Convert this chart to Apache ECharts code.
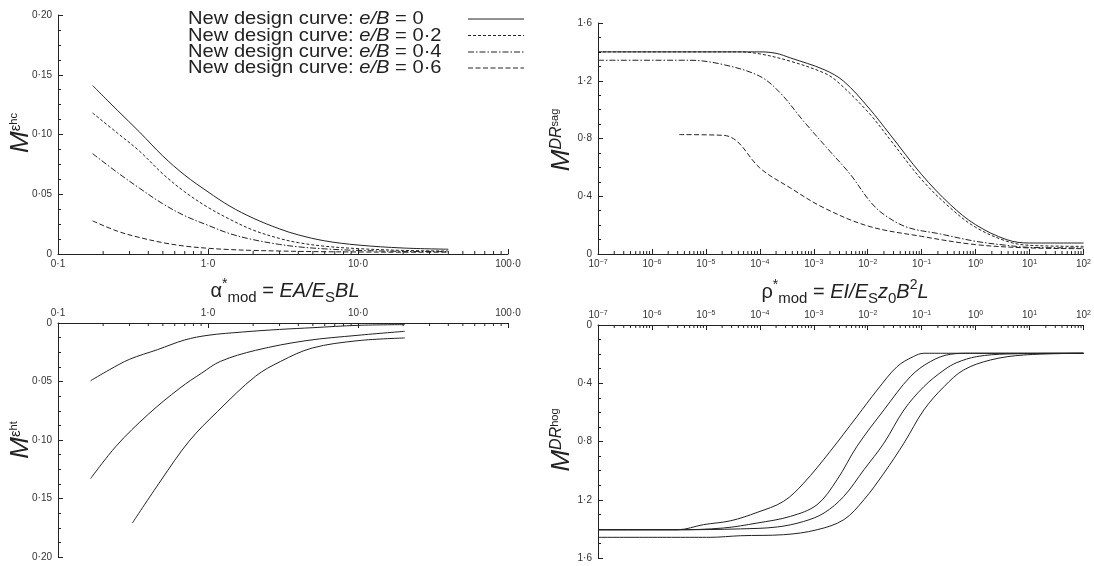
<!DOCTYPE html>
<html>
<head>
<meta charset="utf-8">
<script src="https://cdn.jsdelivr.net/npm/echarts@6/dist/echarts.min.js"></script>
<style>
  html, body { margin: 0; padding: 0; background: #fff; }
  #main { width: 1094px; height: 566px; }
</style>
</head>
<body>
<div id="main"></div>
<script>
'use strict';

// legend / series names
var curveNames = ['e/B = 0', 'e/B = 0·2', 'e/B = 0·4', 'e/B = 0·6'];
var curveLabels = ['0', '0·2', '0·4', '0·6'];

// top left: M^eps_hc against alpha*
var hcX = [0.17, 0.25, 0.35, 0.5, 0.7, 1.0, 1.4, 2.0, 3.0, 4.0, 6.0, 10, 20, 40];
var hcE0 = [0.141, 0.120, 0.102, 0.082, 0.066, 0.052, 0.040, 0.030, 0.021, 0.016, 0.011, 0.0075, 0.005, 0.004];
var hcE2 = [0.118, 0.101, 0.086, 0.067, 0.052, 0.039, 0.029, 0.020, 0.013, 0.0095, 0.0065, 0.0045, 0.003, 0.0025];
var hcE4 = [0.084, 0.068, 0.055, 0.042, 0.032, 0.024, 0.017, 0.012, 0.008, 0.006, 0.0043, 0.003, 0.0022, 0.002];
var hcE6 = [0.0277, 0.019, 0.0138, 0.0095, 0.0066, 0.0048, 0.0037, 0.003, 0.0025, 0.0022, 0.0019, 0.0017, 0.0015, 0.0015];

// bottom left: M^eps_ht against alpha* (3 curves)
var htX0 = [0.165, 0.22, 0.3, 0.46, 0.7, 1.0, 1.7, 3.0, 5.0, 10, 20.5];
var htE0 = [0.0493, 0.040, 0.031, 0.0228, 0.0145, 0.0105, 0.0077, 0.0055, 0.004, 0.002, 0.0014];
var htX2 = [0.165, 0.245, 0.4, 0.65, 0.91, 1.21, 2.07, 4.5, 10, 20.5];
var htE2 = [0.133, 0.105, 0.078, 0.0556, 0.0427, 0.0328, 0.0234, 0.0151, 0.0105, 0.0071];
var htX4 = [0.313, 0.483, 0.748, 1.16, 2.07, 3.05, 4.95, 10, 20.5];
var htE4 = [0.171, 0.135, 0.101, 0.0755, 0.0456, 0.0328, 0.0214, 0.0151, 0.0128];

// top right: M^DR_sag against rho*
var sagX0 = [1e-7, 1e-4, 2e-4, 3.7e-4, 1.55e-3, 3.6e-3, 1.05e-2, 2.6e-2, 0.1, 0.34, 1, 3.8, 10, 100];
var sagE0 = [1.40, 1.40, 1.39, 1.358, 1.277, 1.196, 1.011, 0.827, 0.55, 0.342, 0.203, 0.099, 0.076, 0.076];
var sagX2 = [1e-7, 4e-5, 1e-4, 3.7e-4, 1.55e-3, 2.7e-3, 1.05e-2, 2.6e-2, 0.1, 0.34, 1, 3.8, 10, 100];
var sagE2 = [1.40, 1.40, 1.386, 1.335, 1.254, 1.196, 0.977, 0.792, 0.515, 0.319, 0.185, 0.088, 0.06, 0.053];
var sagX4 = [1e-7, 5e-6, 2.1e-5, 1e-4, 2.4e-4, 6.5e-4, 2e-3, 4.8e-3, 1.1e-2, 2e-2, 5.4e-2, 0.22, 1, 3.8, 10, 100];
var sagE4 = [1.342, 1.342, 1.312, 1.231, 1.115, 0.919, 0.711, 0.55, 0.365, 0.273, 0.185, 0.139, 0.088, 0.06, 0.046, 0.042];
var sagX6 = [3.2e-6, 2.1e-5, 3.8e-5, 1e-4, 3.7e-4, 1.55e-3, 1.05e-2, 0.1, 1, 10, 100];
var sagE6 = [0.827, 0.822, 0.78, 0.596, 0.457, 0.319, 0.192, 0.122, 0.065, 0.042, 0.037];

// bottom right: M^DR_hog against rho*
var hogX0 = [1e-7, 3e-6, 9e-6, 2.9e-5, 8.9e-5, 2.75e-4, 6.5e-4, 2e-3, 6.3e-3, 1.5e-2, 3.5e-2, 7e-2, 0.11, 100];
var hogE0 = [1.406, 1.406, 1.371, 1.344, 1.287, 1.211, 1.086, 0.869, 0.629, 0.446, 0.286, 0.217, 0.194, 0.194];
var hogX2 = [1e-7, 3e-6, 2.1e-5, 8.9e-5, 3.7e-4, 1.15e-3, 2.7e-3, 6.3e-3, 2e-2, 6.2e-2, 0.145, 0.34, 0.8, 100];
var hogE2 = [1.406, 1.406, 1.394, 1.36, 1.314, 1.234, 1.063, 0.834, 0.583, 0.354, 0.251, 0.201, 0.194, 0.194];
var hogX4 = [1e-7, 3e-6, 4.4e-5, 2.1e-4, 6.5e-4, 1.55e-3, 3.6e-3, 8.5e-3, 2e-2, 4.7e-2, 0.11, 0.26, 0.45, 1.05, 3.8, 100];
var hogE4 = [1.406, 1.406, 1.40, 1.387, 1.349, 1.291, 1.177, 0.994, 0.811, 0.583, 0.423, 0.309, 0.258, 0.217, 0.199, 0.194];
var hogX6 = [1e-7, 1.2e-5, 4.4e-5, 2.75e-4, 1.15e-3, 3.6e-3, 8.5e-3, 2e-2, 4.7e-2, 0.11, 0.26, 0.6, 1.9, 7.8, 100];
var hogE6 = [1.458, 1.458, 1.447, 1.44, 1.406, 1.337, 1.2, 1.017, 0.811, 0.583, 0.423, 0.309, 0.24, 0.206, 0.194];

var FONT = '"Liberation Sans", Arial, Helvetica, sans-serif';
var INK = '#222';
var dashes = ['solid', [3, 2], [6, 2, 1.5, 2], [5, 2.5]];

function pts(xs, ys) {
    return xs.map(function (x, i) { return [x, ys[i]]; });
}

function curve(name, idx, data, dash) {
    return {
        name: name, type: 'line', xAxisIndex: idx, yAxisIndex: idx,
        data: data, showSymbol: false, symbol: 'none', smooth: 0.35,
        lineStyle: { color: INK, width: 1, type: dash },
        itemStyle: { color: INK },
        silent: true, z: 3
    };
}

// minor log ticks (2..9 in each decade) drawn through the axis scale
function minorTicks(idx, lo, hi, dir) {
    var vals = [];
    for (var e = lo; e < hi; e++) {
        for (var k = 2; k <= 9; k++) vals.push([k * Math.pow(10, e), 0]);
    }
    return {
        type: 'custom', xAxisIndex: idx, yAxisIndex: idx, silent: true, clip: false, z: 4,
        data: vals,
        renderItem: function (params, api) {
            var p = api.coord([api.value(0), 0]);
            return {
                type: 'line',
                shape: { x1: p[0], y1: p[1], x2: p[0], y2: p[1] + dir * 3 },
                style: { stroke: INK, lineWidth: 1 }
            };
        }
    };
}

var decLabel = function (v) {
    var e = Math.round(Math.log(v) / Math.LN10);
    return { '-1': '0·1', '0': '1·0', '1': '10·0', '2': '100·0' }[e];
};
var powLabel = function (v) {
    var e = Math.round(Math.log(v) / Math.LN10);
    return '10{s|' + String(e).replace('-', '−') + '}';
};
var leftY = function (v) { return v === 0 ? '0' : v.toFixed(2).replace('.', '·'); };
var rightY = function (v) { return v === 0 ? '0' : v.toFixed(1).replace('.', '·'); };

var lbl = { color: '#333', fontSize: 10, fontFamily: FONT };
var powRich = { s: { fontSize: 7, fontFamily: FONT, color: '#333', verticalAlign: 'top', lineHeight: 8 } };

function xAx(idx, min, max, pos, fmt) {
    return {
        type: 'log', logBase: 10, gridIndex: idx, min: min, max: max, position: pos,
        splitNumber: Math.round(Math.log(max / min) / Math.LN10),
        axisLine: { show: true, onZero: false, lineStyle: { color: INK, width: 1 } },
        axisTick: { show: true, inside: true, length: 5, lineStyle: { color: INK } },
        axisLabel: Object.assign({ formatter: fmt, margin: 5, showMinLabel: true, showMaxLabel: true, rich: powRich }, lbl),
        splitLine: { show: false }
    };
}

function yAx(idx, max, step, inv, fmt) {
    return {
        type: 'value', gridIndex: idx, min: 0, max: max, interval: step, inverse: inv,
        axisLine: { show: true, lineStyle: { color: INK, width: 1 } },
        axisTick: { show: true, inside: true, length: 5, lineStyle: { color: INK } },
        minorTick: { show: true, splitNumber: 4, length: 3, lineStyle: { color: INK } },
        axisLabel: Object.assign({ formatter: fmt, margin: 6 }, lbl),
        splitLine: { show: false }, minorSplitLine: { show: false }
    };
}

var series = [
    curve(curveNames[0], 0, pts(hcX, hcE0), dashes[0]),
    curve(curveNames[1], 0, pts(hcX, hcE2), dashes[1]),
    curve(curveNames[2], 0, pts(hcX, hcE4), dashes[2]),
    curve(curveNames[3], 0, pts(hcX, hcE6), dashes[3]),
    curve(curveNames[0], 1, pts(htX0, htE0), 'solid'),
    curve(curveNames[1], 1, pts(htX2, htE2), 'solid'),
    curve(curveNames[2], 1, pts(htX4, htE4), 'solid'),
    curve(curveNames[0], 2, pts(sagX0, sagE0), dashes[0]),
    curve(curveNames[1], 2, pts(sagX2, sagE2), dashes[1]),
    curve(curveNames[2], 2, pts(sagX4, sagE4), dashes[2]),
    curve(curveNames[3], 2, pts(sagX6, sagE6), dashes[3]),
    curve(curveNames[0], 3, pts(hogX0, hogE0), 'solid'),
    curve(curveNames[1], 3, pts(hogX2, hogE2), 'solid'),
    curve(curveNames[2], 3, pts(hogX4, hogE4), 'solid'),
    curve(curveNames[3], 3, pts(hogX6, hogE6), 'solid'),
    minorTicks(0, -1, 2, -1),
    minorTicks(1, -1, 2, 1),
    minorTicks(2, -7, 2, -1),
    minorTicks(3, -7, 2, 1)
];

// rotated axis names with super/subscripts
function yName(x, y, text) {
    return {
        type: 'text', x: x, y: y, rotation: Math.PI / 2, silent: true,
        style: { text: text, rich: mRich, fill: INK, align: 'center', verticalAlign: 'middle', fontFamily: FONT }
    };
}
var mRich = {
    m: { fontSize: 26, fontStyle: 'italic', fontFamily: FONT, lineHeight: 30, verticalAlign: 'top', fill: INK },
    e: { fontSize: 15, fontFamily: FONT, lineHeight: 15, verticalAlign: 'top', fill: INK },
    s: { fontSize: 11, fontFamily: FONT, lineHeight: 36, verticalAlign: 'top', fill: INK },
    d: { fontSize: 16, fontStyle: 'italic', fontFamily: FONT, lineHeight: 17, verticalAlign: 'top', fill: INK },
    t: { fontSize: 11, fontFamily: FONT, lineHeight: 40, verticalAlign: 'top', fill: INK }
};
var tRich = {
    n: { fontSize: 20, fontFamily: FONT, lineHeight: 28, fill: INK },
    i: { fontSize: 20, fontStyle: 'italic', fontFamily: FONT, lineHeight: 28, fill: INK },
    p: { fontSize: 14, fontFamily: FONT, lineHeight: 12, verticalAlign: 'top', fill: INK },
    b: { fontSize: 15, fontFamily: FONT, lineHeight: 14, verticalAlign: 'bottom', fill: INK }
};

// legend drawn by hand so the text and the line samples line up as in the figure
var legendRows = [19, 35.5, 52, 68];
var legendItems = [];
curveLabels.forEach(function (lab, i) {
    legendItems.push({
        type: 'text', x: 188, y: legendRows[i], scaleX: 1.06, silent: true,
        style: {
            text: 'New design curve: {i|e/B} = ' + lab, fill: INK, fontSize: 19, fontFamily: FONT,
            verticalAlign: 'middle', align: 'left',
            rich: { i: { fontSize: 19, fontStyle: 'italic', fontFamily: FONT, fill: INK } }
        }
    });
    legendItems.push({
        type: 'line', silent: true,
        shape: { x1: 468, y1: legendRows[i], x2: 524, y2: legendRows[i] },
        style: { stroke: INK, lineWidth: 1, lineDash: dashes[i] === 'solid' ? null : dashes[i] }
    });
});

var option = {
    backgroundColor: '#fff',
    animation: false,
    textStyle: { fontFamily: FONT },
    grid: [
        { left: 58, top: 15, width: 450, height: 239 },
        { left: 58, top: 323, width: 450, height: 234 },
        { left: 598, top: 23, width: 489, height: 231 },
        { left: 598, top: 325, width: 489, height: 233 }
    ],
    xAxis: [
        xAx(0, 0.1, 100, 'bottom', decLabel),
        xAx(1, 0.1, 100, 'top', decLabel),
        xAx(2, 1e-7, 100, 'bottom', powLabel),
        xAx(3, 1e-7, 100, 'top', powLabel)
    ],
    yAxis: [
        yAx(0, 0.2, 0.05, false, leftY),
        yAx(1, 0.2, 0.05, true, leftY),
        yAx(2, 1.6, 0.4, false, rightY),
        yAx(3, 1.6, 0.4, true, rightY)
    ],
    graphic: [
        yName(26, 133, '{m|M}{e|ε}{s|hc}'),
        yName(26, 440, '{m|M}{e|ε}{s|ht}'),
        yName(569, 140, '{m|M}{d|DR}{t|sag}'),
        yName(569, 440, '{m|M}{d|DR}{t|hog}'),
        {
            type: 'text', x: 285, y: 291, silent: true,
            style: { text: '{n|α}{p|*}{b|mod}{n| = }{i|EA/E}{b|S}{i|BL}', rich: tRich, align: 'center', verticalAlign: 'middle' }
        },
        {
            type: 'text', x: 845, y: 292, silent: true,
            style: { text: '{n|ρ}{p|*}{b|mod}{n| = }{i|EI/E}{b|S}{i|z}{b|0}{i|B}{p|2}{i|L}', rich: tRich, align: 'center', verticalAlign: 'middle' }
        }
    ].concat(legendItems),
    series: series
};

var chart = echarts.init(document.getElementById('main'), null, { renderer: 'canvas' });
chart.setOption(option);
</script>
</body>
</html>
